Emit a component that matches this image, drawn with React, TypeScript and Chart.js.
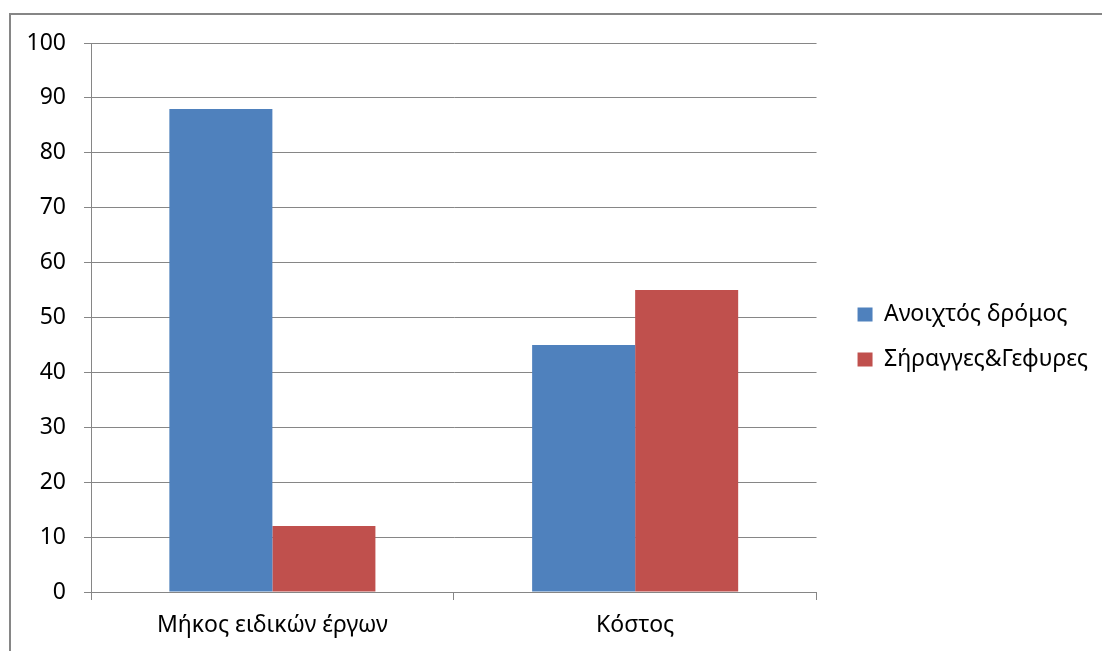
import React, { useEffect, useRef } from "react";
import { Chart, registerables } from "chart.js";

Chart.register(...registerables);

const categories = ["Μήκος ειδικών έργων", "Κόστος"];
const openRoad = [88, 45];
const tunnelsBridges = [12, 55];
const seriesNames = ["Ανοιχτός δρόμος", "Σήραγγες&Γεφυρες"];

const FONT = "'Noto Sans', sans-serif";
const GRID = "#868686";

// nudges the legend block within its layout box
const legendNudge = {
  id: "legendNudge",
  afterLayout(chart: any) {
    const lg = chart.legend;
    if (!lg) return;
    lg.left += 19;
    lg.right += 19;
    lg.top -= 10;
    lg.bottom -= 10;
  },
};

export default function App() {
  const ref = useRef<HTMLCanvasElement | null>(null);

  useEffect(() => {
    if (!ref.current) return;
    const chart = new Chart(ref.current, {
      type: "bar",
      data: {
        labels: categories,
        datasets: [
          { label: seriesNames[0], data: openRoad, backgroundColor: "#4F81BD", borderWidth: 0 },
          { label: seriesNames[1], data: tunnelsBridges, backgroundColor: "#C0504D", borderWidth: 0 },
        ],
      },
      options: {
        animation: false,
        responsive: false,
        maintainAspectRatio: false,
        layout: { padding: { top: 43, left: 0, right: 23, bottom: 0 } },
        datasets: { bar: { categoryPercentage: 0.568, barPercentage: 1 } },
        plugins: {
          legend: {
            position: "right",
            labels: {
              font: { family: FONT, size: 23 },
              color: "#000",
              boxWidth: 15,
              boxHeight: 14,
              padding: 22,
            },
          },
          tooltip: { enabled: false },
        },
        scales: {
          x: {
            offset: true,
            grid: {
              offset: true,
              drawOnChartArea: false,
              drawTicks: true,
              tickLength: 8,
              color: GRID,
              lineWidth: 1,
            },
            border: { display: true, color: GRID, width: 1 },
            ticks: { font: { family: FONT, size: 23 }, color: "#000", padding: 12 },
            afterFit: (s: any) => {
              s.height = 59;
            },
          },
          y: {
            min: 0,
            max: 100,
            ticks: { stepSize: 10, font: { family: FONT, size: 23 }, color: "#000", padding: 18 },
            grid: { color: GRID, lineWidth: 1, tickLength: 7 },
            border: { display: true, color: GRID, width: 1 },
            afterFit: (s: any) => {
              s.width = 91;
            },
          },
        },
      },
      plugins: [legendNudge],
    });
    return () => chart.destroy();
  }, []);

  return (
    <div style={{ position: "absolute", left: 0, top: 0, width: 1102, height: 651, background: "#fff", overflow: "hidden" }}>
      <div
        style={{
          position: "absolute",
          left: 9,
          top: 13,
          width: 1200,
          height: 800,
          borderLeft: `2px solid ${GRID}`,
          borderTop: `2px solid ${GRID}`,
          boxSizing: "border-box",
        }}
      />
      <canvas ref={ref} width={1102} height={651} style={{ position: "absolute", left: 0, top: 0 }} />
    </div>
  );
}
